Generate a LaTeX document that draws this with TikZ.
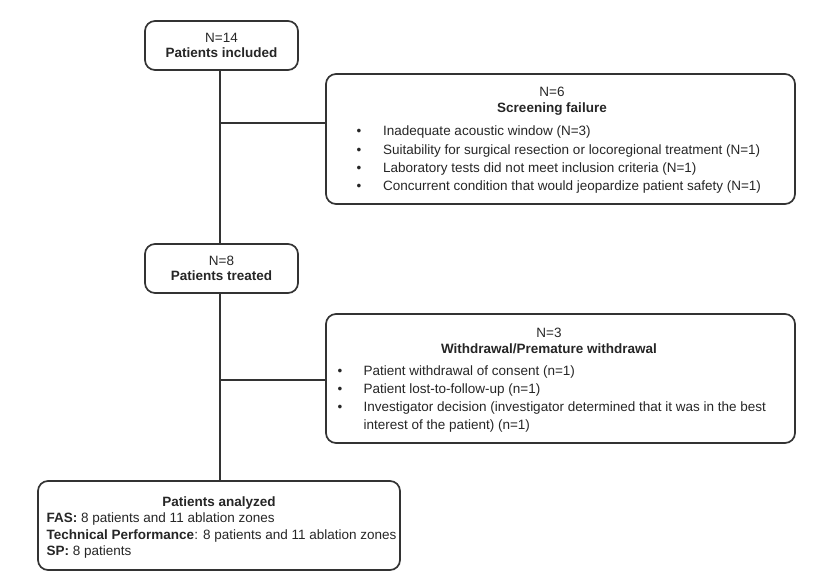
\documentclass[tikz,border=0pt]{standalone}
\usepackage{fontspec}
\setmainfont{Liberation Sans}
\definecolor{ink}{HTML}{262626}
\definecolor{edge}{HTML}{333333}
\begin{document}
\begin{tikzpicture}[x=1pt,y=-1pt,
  box/.style={draw=edge, line width=1.7pt, rounded corners=10pt, inner sep=0pt},
  conn/.style={draw=edge, line width=1.7pt},
  txt/.style={text=ink, inner sep=0pt, font=\fontsize{13.5}{16}\selectfont},
  head/.style={txt, anchor=base},
  item/.style={txt, anchor=base west},
  dot/.style={txt, anchor=base}]
\useasboundingbox (0,0) rectangle (831,579);

% boxes
\node[box, minimum width=153pt, minimum height=49pt] (b1) at (221.5,45.5) {};
\node[box, minimum width=153pt, minimum height=49pt] (b2) at (221.5,268.5) {};
\node[box, minimum width=469pt, minimum height=130pt] (b3) at (560.5,139) {};
\node[box, minimum width=469pt, minimum height=129pt] (b4) at (560.5,378.5) {};
\node[box, minimum width=362pt, minimum height=89pt] (b5) at (219,525.5) {};

% connectors
\coordinate (j1) at (220,123);
\coordinate (j2) at (220,380);
\draw[conn] (b1.south -| j1) -- (b2.north -| j1);
\draw[conn] (b2.south -| j2) -- (b5.north -| j2);
\draw[conn] (j1) -- (j1 -| b3.west);
\draw[conn] (j2) -- (j2 -| b4.west);

% box 1
\node[head] (t1a) at (221.5,42.5) {N=14};
\node[head] (t1b) at (221.5,57) {\bfseries Patients included};
% box 2
\node[head] (t2a) at (221.5,265.5) {N=8};
\node[head] (t2b) at (221.5,280.5) {\bfseries Patients treated};

% box 3
\node[head] (t3a) at (552,96.5) {N=6};
\node[head] (t3b) at (552,112.5) {\bfseries Screening failure};
\node[dot] (d31) at (359,135.8) {•};
\node[dot] (d32) at (359,154) {•};
\node[dot] (d33) at (359,172.2) {•};
\node[dot] (d34) at (359,190.4) {•};
\node[item] (i31) at (383,135.8) {Inadequate acoustic window (N=3)};
\node[item] (i32) at (383,154) {Suitability for surgical resection or locoregional treatment (N=1)};
\node[item] (i33) at (383,172.2) {Laboratory tests did not meet inclusion criteria (N=1)};
\node[item] (i34) at (383,190.4) {Concurrent condition that would jeopardize patient safety (N=1)};

% box 4
\node[head] (t4a) at (549,337) {N=3};
\node[head] (t4b) at (549,353) {\bfseries Withdrawal/Premature withdrawal};
\node[dot] (d41) at (340,375.2) {•};
\node[dot] (d42) at (340,393.4) {•};
\node[dot] (d43) at (340,411.6) {•};
\node[item] (i41) at (363.5,375.2) {Patient withdrawal of consent (n=1)};
\node[item] (i42) at (363.5,393.4) {Patient lost-to-follow-up (n=1)};
\node[item] (i43) at (363.5,411.6) {Investigator decision (investigator determined that it was in the best};
\node[item] (i44) at (363.5,429.8) {interest of the patient) (n=1)};

% box 5
\node[head] (t5a) at (219,506.5) {\bfseries Patients analyzed};
\node[item] (i51) at (46.5,522.8) {\bfseries FAS:\mdseries{} 8 patients and 11 ablation zones};
\node[item] (i52) at (46.5,539) {\bfseries Technical Performance\mdseries: 8 patients and 11 ablation zones};
\node[item] (i53) at (46.5,555.2) {\bfseries SP:\mdseries{} 8 patients};
\end{tikzpicture}
\end{document}
